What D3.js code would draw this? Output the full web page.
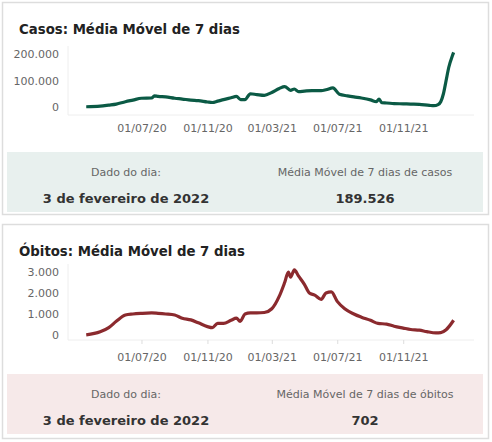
<!DOCTYPE html><html><head><meta charset="utf-8">
<script src="https://cdn.jsdelivr.net/npm/d3@7"></script>
<style>body{margin:0;background:#fff;font-family:"DejaVu Sans",sans-serif}</style></head><body>
<svg id="c" width="492" height="442"></svg>
<script>
const casesDates=["2020-03-20","2020-04-15","2020-05-01","2020-05-15","2020-06-01","2020-06-15","2020-07-01","2020-07-20","2020-07-25","2020-08-01","2020-08-15","2020-09-01","2020-09-15","2020-10-01","2020-10-15","2020-11-01","2020-11-10","2020-11-20","2020-12-01","2020-12-15","2020-12-25","2021-01-02","2021-01-10","2021-01-20","2021-02-01","2021-02-15","2021-03-01","2021-03-15","2021-03-25","2021-04-05","2021-04-12","2021-04-20","2021-05-01","2021-05-15","2021-06-01","2021-06-10","2021-06-23","2021-07-05","2021-07-20","2021-08-01","2021-08-15","2021-09-01","2021-09-12","2021-09-17","2021-09-22","2021-10-01","2021-10-15","2021-11-01","2021-11-15","2021-12-01","2021-12-20","2021-12-28","2022-01-05","2022-01-10","2022-01-15","2022-01-20","2022-01-25","2022-02-01","2022-02-03"];
const casesVals=[1,3,7,11,20,26,33,34,42,40,38,33,30,26,24,19,17,22,28,35,40,28,28,50,47,44,55,70,77,63,68,58,60,62,62,65,72,48,42,38,34,27,20,30,16,15,13,12,11,10,6,5,9,20,50,100,150,195,206];
const deathDates=["2020-03-20","2020-04-15","2020-05-01","2020-05-15","2020-06-01","2020-06-15","2020-07-01","2020-07-20","2020-08-01","2020-08-15","2020-09-01","2020-09-15","2020-10-01","2020-10-15","2020-11-01","2020-11-10","2020-11-20","2020-12-01","2020-12-15","2020-12-25","2021-01-01","2021-01-10","2021-01-20","2021-02-01","2021-02-15","2021-03-01","2021-03-15","2021-03-25","2021-04-01","2021-04-05","2021-04-12","2021-04-20","2021-05-01","2021-05-10","2021-05-20","2021-06-01","2021-06-10","2021-06-20","2021-07-01","2021-07-15","2021-08-01","2021-08-15","2021-09-01","2021-09-15","2021-10-01","2021-10-15","2021-11-01","2021-11-15","2021-12-01","2021-12-15","2022-01-01","2022-01-10","2022-01-20","2022-02-03"];
const deathVals=[10,150,350,650,950,1000,1030,1050,1030,1000,950,800,720,580,400,350,550,550,700,800,650,1000,1050,1050,1070,1250,1850,2500,3000,2750,3100,2800,2400,2000,1900,1700,2000,2050,1600,1250,1000,850,700,550,520,420,330,260,230,160,100,110,250,702];
const yTicksCases=[0,100000,200000], yTicksDeaths=[0,1000,2000,3000];
const xTickDates=["2020-07-01","2020-11-01","2021-03-01","2021-07-01","2021-11-01"];
const p=d3.timeParse("%Y-%m-%d");
const svg=d3.select("#c");
const fmt=d=>d3.format(",")(d).replace(/,/g,".");
function panel(o){
  const g=svg.append("g").attr("transform",`translate(0,${o.y0})`);
  g.append("rect").attr("x",2.5).attr("y",2.5).attr("width",486).attr("height",o.h).attr("fill","#fff").attr("stroke","#ddd").attr("stroke-width",1.5);
  g.append("text").attr("x",19).attr("y",34).attr("font-size",13.3).attr("font-weight","bold").attr("fill","#222").text(o.title);
  const x=d3.scaleTime().domain([p("2020-02-15"),p("2022-03-13")]).range([68,474]);
  const y=d3.scaleLinear().domain([0,o.max]).range([o.yb,o.yt]);
  g.append("line").attr("x1",68).attr("x2",474).attr("y1",o.base).attr("y2",o.base).attr("stroke","#eee");
  g.append("line").attr("x1",68).attr("x2",68).attr("y1",o.base).attr("y2",o.yt-8).attr("stroke","#eee");
  const ya=g.append("g").attr("transform","translate(62,0)").call(d3.axisLeft(y).tickValues(o.yt2).tickFormat(fmt).tickSize(0));
  ya.select(".domain").remove();
  ya.selectAll("text").attr("font-size",11).attr("fill","#666").attr("font-family","DejaVu Sans");
  const xa=g.append("g").attr("transform",`translate(0,${o.base})`).call(d3.axisBottom(x).tickValues(xTickDates.map(p)).tickFormat(d3.timeFormat("%d/%m/%y")).tickSize(o.tick).tickPadding(9));
  xa.select(".domain").remove();
  xa.selectAll("line").attr("stroke","#ddd");
  xa.selectAll("text").attr("font-size",11).attr("fill","#666").attr("font-family","DejaVu Sans");
  const data=o.dates.map((d,i)=>[p(d),o.vals[i]]);
  g.append("path").datum(data).attr("fill","none").attr("stroke",o.color).attr("stroke-width",3.2).attr("stroke-linejoin","round")
    .attr("d",d3.line().x(d=>x(d[0])).y(d=>y(d[1])).curve(d3.curveMonotoneX));
  g.append("rect").attr("x",7).attr("y",o.boxY).attr("width",476).attr("height",60).attr("fill",o.bg);
  g.append("text").attr("x",126).attr("y",o.boxY+24).attr("text-anchor","middle").attr("font-size",11).attr("fill","#666").text("Dado do dia:");
  g.append("text").attr("x",365).attr("y",o.boxY+24).attr("text-anchor","middle").attr("font-size",11).attr("fill","#666").text(o.lbl);
  g.append("text").attr("x",126).attr("y",o.boxY+51).attr("text-anchor","middle").attr("font-size",13).attr("font-weight","bold").attr("fill","#333").text("3 de fevereiro de 2022");
  g.append("text").attr("x",365).attr("y",o.boxY+51).attr("text-anchor","middle").attr("font-size",13).attr("font-weight","bold").attr("fill","#333").text(o.val);
}
panel({y0:0,h:212,title:"Casos: Média Móvel de 7 dias",max:200000,yb:107,yt:54,base:115,tick:0,yt2:yTicksCases,dates:casesDates,vals:casesVals.map(v=>v*1000),color:"#0b5a45",bg:"#e8f0ee",boxY:152,lbl:"Média Móvel de 7 dias de casos",val:"189.526"});
panel({y0:222,h:214,title:"Óbitos: Média Móvel de 7 dias",max:3000,yb:113,yt:50,base:118,tick:4,yt2:yTicksDeaths,dates:deathDates,vals:deathVals,color:"#8b2a2e",bg:"#f6e9e9",boxY:152,lbl:"Média Móvel de 7 dias de óbitos",val:"702"});
</script></body></html>
